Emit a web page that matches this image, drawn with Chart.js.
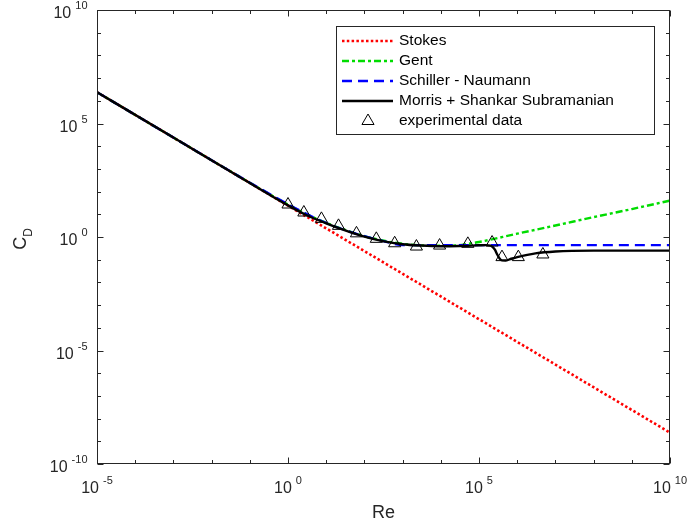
<!DOCTYPE html>
<html>
<head>
<meta charset="utf-8">
<script src="https://cdn.jsdelivr.net/npm/chart.js@4.4.0/dist/chart.umd.min.js"></script>
<style>
  body { margin: 0; background: #fff; }
  canvas { display: block; }
</style>
</head>
<body>
<canvas id="dragChart" width="687" height="527"></canvas>
<script>
// ---- values ----
const reStokes = [1e-5, 1e10];
const cdStokes = [2.4e6, 2.4e-9];

const reGent = [1e-5, 1e-3, 1e-1, 1, 3, 10, 30, 100, 300, 1e3, 3e3, 1e4, 3e4, 6e4, 1e5, 1e6, 1e7, 1e8, 1e9, 1e10];
const cdGent = [2.4e6, 2.4e4, 246, 27, 10.3, 4.2, 2.1, 1.1, 0.7, 0.5, 0.43, 0.41, 0.43, 0.52, 0.6, 1.4, 3.2, 7.5, 17, 40];

const reSchiller = [1e-5, 1e-3, 1e-1, 1, 3, 10, 30, 100, 300, 1e3, 1e10];
const cdSchiller = [2.4e6, 2.4e4, 247, 27.6, 10.6, 4.15, 2.04, 1.09, 0.68, 0.44, 0.44];

const reMorris = [1e-5, 1e-3, 1e-1, 1, 3, 10, 30, 100, 300, 1e3, 3e3, 1e4, 3e4, 1e5, 1.5e5, 2e5, 2.3e5, 2.63e5, 3e5, 3.5e5, 4e5, 5e5, 7e5, 1e6, 3e6, 1e7, 1e8, 1e10];
const cdMorris = [2.4e6, 2.4e4, 240, 24.7, 9.3, 4.0, 2.0, 1.04, 0.66, 0.48, 0.42, 0.39, 0.40, 0.43, 0.44, 0.42, 0.36, 0.27, 0.17, 0.11, 0.093, 0.092, 0.11, 0.13, 0.19, 0.23, 0.25, 0.25];

const reExp = [1, 2.6, 7.5, 21, 62, 205, 620, 2300, 9300, 5.1e4, 2.2e5, 4e5, 1.07e6, 4.7e6];
const cdExp = [27, 12, 6.3, 3.1, 1.45, 0.83, 0.53, 0.38, 0.42, 0.5, 0.57, 0.13, 0.13, 0.17];

// decade exponents for ticks, and which ones get a label
const xTickExps = [-5, -4, -3, -2, -1, 0, 1, 2, 3, 4, 5, 6, 7, 8, 9, 10];
const yTickExps = [-10, -9, -8, -7, -6, -5, -4, -3, -2, -1, 0, 1, 2, 3, 4, 5, 6, 7, 8, 9, 10];
const xLabelExps = [-5, 0, 5, 10];
const yLabelExps = [-10, -5, 0, 5, 10];

const FONT = '"Liberation Sans", Arial, Helvetica, sans-serif';
const axisColor = '#262626';

function pts(xs, ys) {
  return xs.map((x, i) => ({ x: x, y: ys[i] }));
}

// draws "10" with a raised exponent
function drawPower(ctx, exp, x, y, align) {
  ctx.font = '16px ' + FONT;
  const wBase = ctx.measureText('10').width;
  ctx.font = '11px ' + FONT;
  const txt = String(exp);
  const wExp = ctx.measureText(txt).width;
  const gap = 4;
  const total = wBase + gap + wExp;
  const left = align === 'center' ? x - total / 2 : x - total;
  ctx.textAlign = 'left';
  ctx.textBaseline = 'alphabetic';
  ctx.font = '16px ' + FONT;
  ctx.fillText('10', left, y);
  ctx.font = '11px ' + FONT;
  ctx.fillText(txt, left + wBase + gap, y - 9);
}

// box, inward ticks on all sides, tick labels and axis titles
const axesPlugin = {
  id: 'axesPlugin',
  afterDatasetsDraw(chart) {
    const ctx = chart.ctx;
    const a = chart.chartArea;
    const xs = chart.scales.x, ys = chart.scales.y;
    ctx.save();
    ctx.strokeStyle = axisColor;
    ctx.fillStyle = axisColor;
    ctx.lineWidth = 1;
    const L = Math.round(a.left) + 0.5, R = Math.round(a.right) - 0.5;
    const T = Math.round(a.top) + 0.5, B = Math.round(a.bottom) - 0.5;
    ctx.strokeRect(L, T, R - L, B - T);

    ctx.beginPath();
    xTickExps.forEach(e => {
      const px = Math.round(xs.getPixelForValue(Math.pow(10, e))) + 0.5;
      const len = xLabelExps.includes(e) ? 6 : 3.5;
      ctx.moveTo(px, B); ctx.lineTo(px, B - len);
      ctx.moveTo(px, T); ctx.lineTo(px, T + len);
    });
    yTickExps.forEach(e => {
      const py = Math.round(ys.getPixelForValue(Math.pow(10, e))) + 0.5;
      const len = yLabelExps.includes(e) ? 6 : 3.5;
      ctx.moveTo(L, py); ctx.lineTo(L + len, py);
      ctx.moveTo(R, py); ctx.lineTo(R - len, py);
    });
    ctx.stroke();

    xLabelExps.forEach(e => {
      drawPower(ctx, e, xs.getPixelForValue(Math.pow(10, e)), 493, 'center');
    });
    yLabelExps.forEach(e => {
      drawPower(ctx, e, 87.5, ys.getPixelForValue(Math.pow(10, e)) + 8, 'right');
    });

    // axis titles
    ctx.font = '18px ' + FONT;
    ctx.textAlign = 'center';
    ctx.textBaseline = 'alphabetic';
    ctx.fillText('Re', (a.left + a.right) / 2, 518);

    ctx.translate(26, (a.top + a.bottom) / 2 + 2);
    ctx.rotate(-Math.PI / 2);
    ctx.textAlign = 'left';
    ctx.font = '18px ' + FONT;
    const wC = ctx.measureText('C').width;
    ctx.font = '12px ' + FONT;
    const wD = ctx.measureText('D').width;
    const start = -(wC + wD) / 2;
    ctx.font = '18px ' + FONT;
    ctx.fillText('C', start, 0);
    ctx.font = '12px ' + FONT;
    ctx.fillText('D', start + wC, 6);
    ctx.restore();
  }
};

// boxed legend in the upper right, like the original figure
const legendPlugin = {
  id: 'legendPlugin',
  afterDraw(chart) {
    const ctx = chart.ctx;
    const box = { x: 336.5, y: 26.5, w: 318, h: 108 };
    ctx.save();
    ctx.fillStyle = '#fff';
    ctx.fillRect(box.x, box.y, box.w, box.h);
    ctx.strokeStyle = axisColor;
    ctx.lineWidth = 1;
    ctx.strokeRect(box.x, box.y, box.w, box.h);

    const rowY = [41, 61, 81, 101, 121];
    chart.data.datasets.forEach((ds, i) => {
      const y = rowY[i];
      if (ds.showLine === false) {
        ctx.beginPath();
        const r = 7, cx = 368;
        ctx.moveTo(cx, y - r);
        ctx.lineTo(cx + r * 0.866, y + r / 2);
        ctx.lineTo(cx - r * 0.866, y + r / 2);
        ctx.closePath();
        ctx.strokeStyle = ds.borderColor;
        ctx.lineWidth = 1;
        ctx.setLineDash([]);
        ctx.stroke();
      } else {
        ctx.beginPath();
        ctx.strokeStyle = ds.borderColor;
        ctx.lineWidth = ds.borderWidth;
        ctx.setLineDash(ds.borderDash || []);
        ctx.moveTo(342, y);
        ctx.lineTo(393, y);
        ctx.stroke();
      }
      ctx.setLineDash([]);
      ctx.fillStyle = '#000';
      ctx.font = '15.5px ' + FONT;
      ctx.textAlign = 'left';
      ctx.textBaseline = 'middle';
      ctx.fillText(ds.label, 399, y);
    });
    ctx.restore();
  }
};

new Chart(document.getElementById('dragChart'), {
  type: 'line',
  data: {
    datasets: [
      {
        label: 'Stokes',
        data: pts(reStokes, cdStokes),
        borderColor: 'rgb(255,0,0)',
        borderWidth: 2.6,
        borderDash: [2.5, 2.3],
        pointRadius: 0,
        order: 5
      },
      {
        label: 'Gent',
        data: pts(reGent, cdGent),
        borderColor: 'rgb(0,220,0)',
        borderWidth: 2.4,
        borderDash: [7, 3, 3, 3],
        pointRadius: 0,
        cubicInterpolationMode: 'monotone',
        order: 4
      },
      {
        label: 'Schiller - Naumann',
        data: pts(reSchiller, cdSchiller),
        borderColor: 'rgb(0,0,255)',
        borderWidth: 2.4,
        borderDash: [10, 6],
        pointRadius: 0,
        cubicInterpolationMode: 'monotone',
        order: 3
      },
      {
        label: 'Morris + Shankar Subramanian',
        data: pts(reMorris, cdMorris),
        borderColor: '#000',
        borderWidth: 2.4,
        pointRadius: 0,
        cubicInterpolationMode: 'monotone',
        order: 2
      },
      {
        label: 'experimental data',
        data: pts(reExp, cdExp),
        showLine: false,
        pointStyle: 'triangle',
        pointRadius: 7,
        borderColor: '#000',
        borderWidth: 1,
        backgroundColor: 'rgba(0,0,0,0)',
        pointBackgroundColor: 'rgba(0,0,0,0)',
        order: 1
      }
    ]
  },
  options: {
    responsive: false,
    animation: false,
    devicePixelRatio: 1,
    layout: { padding: { left: 97, right: 17, top: 10, bottom: 63 } },
    plugins: {
      legend: { display: false },
      tooltip: { enabled: false }
    },
    scales: {
      x: { type: 'logarithmic', min: 1e-5, max: 1e10, display: false },
      y: { type: 'logarithmic', min: 1e-10, max: 1e10, display: false }
    }
  },
  plugins: [axesPlugin, legendPlugin]
});
</script>
</body>
</html>
